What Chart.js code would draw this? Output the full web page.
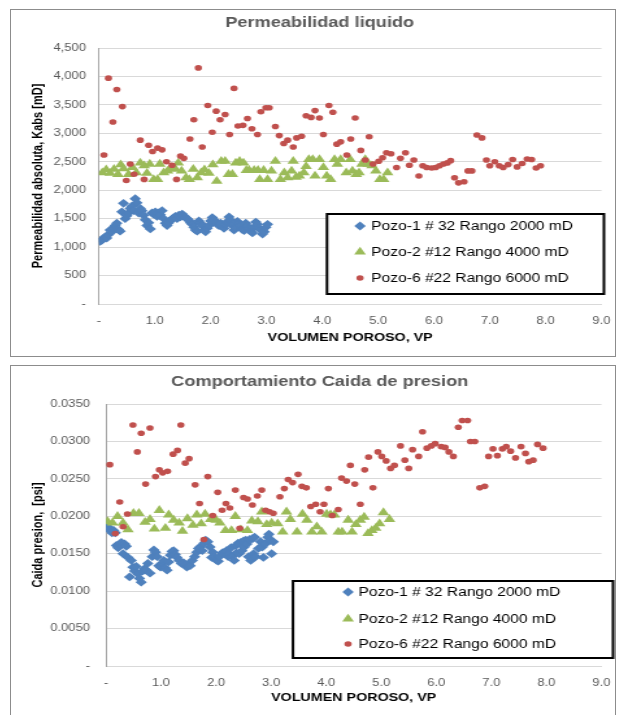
<!DOCTYPE html>
<html>
<head>
<meta charset="utf-8">
<script src="https://cdn.jsdelivr.net/npm/chart.js@4/dist/chart.umd.min.js"></script>
<style>
  body { margin: 0; background: #fff; width: 620px; height: 715px; overflow: hidden; position: relative; }
  .panel { position: absolute; left: 10px; width: 604px; border: 1px solid #8c8c8c; overflow: hidden; background: #fff; }
  /* the reference picture is stretched sideways, so the canvases are too */
  .stretch { transform-origin: 0 0; transform: scaleX(1.2989); }
  canvas { display: block; }
</style>
</head>
<body>
<div class="panel" style="top:9px;height:346px"><div class="stretch"><canvas id="permChart" width="465" height="346"></canvas></div></div>
<div class="panel" style="top:365px;height:350px"><div class="stretch"><canvas id="dpChart" width="465" height="350"></canvas></div></div>
<script>
const seriesNames = ["Pozo-1 # 32 Rango 2000 mD", "Pozo-2 #12 Rango 4000 mD", "Pozo-6 #22 Rango 6000 mD"];
const seriesColors = ["#4F81BD", "#9BBB59", "#C0504D"];

const vpTicks = [0, 1, 2, 3, 4, 5, 6, 7, 8, 9];
const vpTickLabels = ["-", "1.0", "2.0", "3.0", "4.0", "5.0", "6.0", "7.0", "8.0", "9.0"];
const permTicks = [0, 500, 1000, 1500, 2000, 2500, 3000, 3500, 4000, 4500];
const permTickLabels = ["-", "500", "1,000", "1,500", "2,000", "2,500", "3,000", "3,500", "4,000", "4,500"];
const dpTicks = [0, 0.005, 0.01, 0.015, 0.02, 0.025, 0.03, 0.035];
const dpTickLabels = ["-", "0.0050", "0.0100", "0.0150", "0.0200", "0.0250", "0.0300", "0.0350"];

// Permeabilidad liquido [VP, mD]
const perm1 = [[0.02,1100],[0.05,1120],[0.08,1150],[0.11,1180],[0.14,1160],[0.17,1220],[0.20,1300],[0.23,1270],[0.26,1340],[0.29,1380],
  [0.32,1420],[0.35,1310],[0.38,1280],[0.41,1620],[0.44,1770],[0.47,1500],[0.50,1550],[0.53,1600],[0.56,1680],[0.59,1720],
  [0.62,1640],[0.65,1850],[0.68,1780],[0.71,1600],[0.74,1680],[0.77,1640],[0.80,1560],[0.83,1480],[0.86,1380],[0.89,1430],
  [0.92,1320],[0.95,1600],[0.98,1580],[1.01,1620],[1.04,1540],[1.07,1600],[1.10,1570],[1.13,1640],[1.16,1500],[1.19,1420],
  [1.22,1380],[1.25,1430],[1.28,1470],[1.31,1490],[1.34,1520],[1.37,1540],[1.40,1500],[1.43,1560],[1.46,1530],[1.49,1580],
  [1.52,1550],[1.55,1520],[1.58,1500],[1.61,1470],[1.64,1430],[1.67,1400],[1.70,1350],[1.73,1300],[1.76,1280],[1.79,1460],
  [1.82,1420],[1.85,1380],[1.88,1300],[1.91,1270],[1.94,1330],[1.97,1380],[2.00,1460],[2.03,1520],[2.06,1480],[2.09,1440],
  [2.12,1400],[2.15,1380],[2.18,1420],[2.21,1360],[2.24,1330],[2.27,1400],[2.30,1450],[2.33,1530],[2.36,1470],[2.39,1380],
  [2.42,1300],[2.45,1340],[2.48,1450],[2.51,1420],[2.54,1380],[2.57,1310],[2.60,1290],[2.63,1420],[2.66,1370],[2.69,1330],
  [2.72,1280],[2.75,1250],[2.78,1350],[2.81,1440],[2.84,1400],[2.87,1330],[2.90,1300],[2.93,1230],[2.96,1270],[2.99,1350],[3.02,1400]];
const perm2 = [[0.06,2310],[0.13,2360],[0.20,2300],[0.27,2370],[0.34,2280],[0.39,2450],[0.44,2380],[0.53,2280],[0.60,2400],[0.67,2310],
  [0.74,2480],[0.81,2430],[0.86,2300],[0.91,2460],[0.98,2190],[1.05,2190],[1.09,2460],[1.16,2310],[1.23,2340],[1.30,2400],
  [1.37,2370],[1.42,2480],[1.48,2340],[1.56,2220],[1.62,2190],[1.69,2370],[1.76,2220],[1.83,2310],[1.89,2360],[1.97,2300],
  [2.04,2450],[2.11,2160],[2.19,2510],[2.26,2510],[2.32,2280],[2.39,2280],[2.45,2480],[2.52,2510],[2.59,2480],[2.64,2350],
  [2.69,2350],[2.78,2350],[2.85,2350],[2.88,2190],[2.95,2350],[3.02,2190],[3.09,2340],[3.16,2510],[3.25,2190],[3.32,2310],
  [3.38,2220],[3.45,2340],[3.48,2510],[3.53,2230],[3.59,2250],[3.67,2310],[3.71,2420],[3.76,2540],[3.83,2540],[3.87,2250],
  [3.95,2540],[4.02,2400],[4.08,2250],[4.15,2190],[4.22,2540],[4.27,2460],[4.33,2540],[4.43,2310],[4.50,2540],[4.54,2340],
  [4.61,2280],[4.66,2310],[4.71,2460],[4.77,2540],[4.82,2460],[4.89,2430],[4.96,2340],[5.03,2190],[5.10,2190],[5.17,2310]];
const perm6 = [[0.09,2620],[0.17,3970],[0.25,3200],[0.32,3770],[0.42,3470],[0.49,2170],[0.56,2460],[0.63,2280],[0.74,2880],[0.81,2190],
  [0.89,2790],[0.96,2680],[1.05,2740],[1.13,2710],[1.21,2500],[1.31,2440],[1.39,2190],[1.46,2600],[1.52,2560],[1.63,2900],
  [1.70,3240],[1.78,4150],[1.85,2760],[1.95,3490],[2.03,3020],[2.10,3390],[2.17,3240],[2.26,3330],[2.34,2980],[2.42,3790],
  [2.49,3130],[2.58,3140],[2.66,3260],[2.74,3080],[2.84,2980],[2.90,3380],[2.99,3450],[3.05,3450],[3.16,3120],[3.23,2960],
  [3.31,2820],[3.38,2880],[3.48,2760],[3.54,2920],[3.63,2950],[3.71,3310],[3.80,3280],[3.87,3400],[3.95,3270],[4.02,2980],
  [4.12,3490],[4.19,3370],[4.26,2810],[4.33,2850],[4.44,2620],[4.51,2900],[4.59,3270],[4.69,2700],[4.77,2530],[4.84,2940],
  [4.91,2460],[5.01,2510],[5.08,2570],[5.15,2660],[5.23,2640],[5.33,2400],[5.40,2560],[5.49,2660],[5.56,2440],[5.64,2530],
  [5.73,2250],[5.80,2430],[5.87,2400],[5.96,2390],[6.03,2400],[6.10,2430],[6.17,2460],[6.24,2480],[6.30,2520],[6.37,2220],
  [6.44,2130],[6.54,2150],[6.61,2340],[6.68,2340],[6.77,2970],[6.86,2920],[6.94,2530],[7.00,2430],[7.09,2500],[7.17,2430],
  [7.24,2400],[7.33,2450],[7.41,2540],[7.49,2410],[7.58,2470],[7.67,2550],[7.75,2540],[7.83,2390],[7.91,2430]];

// Caida de presion [VP, psi]
const dp1 = [[0.02,0.0190],[0.05,0.0185],[0.08,0.0181],[0.11,0.0178],[0.14,0.0181],[0.17,0.0178],[0.19,0.0161],[0.22,0.0158],[0.25,0.0163],[0.28,0.0165],
  [0.31,0.0150],[0.34,0.0163],[0.37,0.0160],[0.40,0.0145],[0.43,0.0119],[0.46,0.0141],[0.49,0.0132],[0.52,0.0127],[0.55,0.0133],[0.58,0.0123],
  [0.61,0.0117],[0.64,0.0112],[0.67,0.0127],[0.70,0.0130],[0.73,0.0128],[0.76,0.0137],[0.80,0.0124],[0.84,0.0146],[0.87,0.0155],[0.90,0.0152],
  [0.93,0.0146],[0.96,0.0134],[0.99,0.0132],[1.02,0.0137],[1.05,0.0141],[1.08,0.0131],[1.11,0.0128],[1.14,0.0139],[1.17,0.0148],[1.20,0.0153],
  [1.23,0.0154],[1.26,0.0149],[1.29,0.0145],[1.33,0.0141],[1.37,0.0137],[1.41,0.0138],[1.44,0.0135],[1.47,0.0132],[1.50,0.0136],[1.53,0.0134],
  [1.57,0.0141],[1.61,0.0146],[1.65,0.0152],[1.68,0.0157],[1.71,0.0159],[1.75,0.0154],[1.78,0.0164],[1.81,0.0168],[1.85,0.0166],[1.89,0.0159],
  [1.92,0.0145],[1.94,0.0152],[1.97,0.0146],[2.01,0.0141],[2.04,0.0140],[2.06,0.0146],[2.11,0.0151],[2.15,0.0152],[2.19,0.0154],[2.22,0.0146],
  [2.24,0.0150],[2.27,0.0158],[2.29,0.0146],[2.33,0.0141],[2.36,0.0161],[2.37,0.0151],[2.40,0.0164],[2.42,0.0150],[2.45,0.0165],[2.47,0.0154],
  [2.50,0.0167],[2.51,0.0159],[2.54,0.0168],[2.56,0.0163],[2.59,0.0146],[2.61,0.0169],[2.63,0.0141],[2.66,0.0170],[2.68,0.0150],[2.70,0.0172],
  [2.72,0.0146],[2.77,0.0157],[2.81,0.0166],[2.84,0.0159],[2.86,0.0145],[2.89,0.0163],[2.94,0.0172],[2.96,0.0176],[2.98,0.0168],[3.01,0.0150],[3.04,0.0166]];
const dp2 = [[0.03,0.0193],[0.12,0.0191],[0.21,0.0200],[0.31,0.0191],[0.40,0.0182],[0.50,0.0204],[0.60,0.0204],[0.71,0.0192],[0.80,0.0196],[0.88,0.0183],
  [0.97,0.0208],[1.08,0.0184],[1.14,0.0202],[1.23,0.0195],[1.33,0.0191],[1.39,0.0180],[1.48,0.0197],[1.58,0.0188],[1.65,0.0202],[1.73,0.0190],
  [1.80,0.0203],[1.90,0.0196],[2.00,0.0195],[2.07,0.0191],[2.17,0.0181],[2.28,0.0181],[2.35,0.0200],[2.45,0.0182],[2.57,0.0181],[2.65,0.0194],
  [2.76,0.0193],[2.83,0.0206],[2.92,0.0189],[3.01,0.0191],[3.12,0.0190],[3.21,0.0179],[3.28,0.0206],[3.35,0.0196],[3.47,0.0179],[3.57,0.0203],
  [3.65,0.0195],[3.74,0.0179],[3.83,0.0186],[3.92,0.0179],[4.01,0.0203],[4.08,0.0202],[4.15,0.0202],[4.22,0.0179],[4.29,0.0179],[4.40,0.0195],
  [4.47,0.0179],[4.54,0.0189],[4.62,0.0195],[4.69,0.0199],[4.76,0.0177],[4.83,0.0181],[4.90,0.0184],[4.97,0.0190],[5.04,0.0205],[5.15,0.0196]];
const dp6 = [[0.07,0.0269],[0.17,0.0177],[0.25,0.0219],[0.31,0.0186],[0.39,0.0203],[0.49,0.0322],[0.57,0.0286],[0.64,0.0311],[0.72,0.0243],[0.80,0.0318],
  [0.90,0.0253],[0.97,0.0262],[1.03,0.0258],[1.12,0.0260],[1.22,0.0283],[1.30,0.0288],[1.36,0.0322],[1.44,0.0271],[1.51,0.0277],[1.62,0.0242],
  [1.70,0.0217],[1.78,0.0169],[1.85,0.0253],[1.94,0.0201],[2.03,0.0232],[2.11,0.0208],[2.18,0.0217],[2.25,0.0211],[2.35,0.0235],[2.43,0.0184],
  [2.50,0.0225],[2.57,0.0223],[2.66,0.0215],[2.75,0.0227],[2.83,0.0235],[2.90,0.0208],[2.97,0.0206],[3.04,0.0204],[3.16,0.0226],[3.24,0.0237],
  [3.31,0.0249],[3.39,0.0245],[3.49,0.0256],[3.56,0.0240],[3.64,0.0238],[3.72,0.0213],[3.81,0.0216],[3.89,0.0206],[3.96,0.0216],[4.04,0.0237],
  [4.11,0.0201],[4.22,0.0209],[4.28,0.0251],[4.37,0.0247],[4.44,0.0268],[4.52,0.0243],[4.62,0.0216],[4.70,0.0262],[4.77,0.0279],[4.85,0.0238],
  [4.94,0.0286],[5.01,0.0280],[5.09,0.0274],[5.17,0.0264],[5.24,0.0268],[5.35,0.0294],[5.43,0.0275],[5.50,0.0264],[5.57,0.0289],[5.68,0.0280],
  [5.75,0.0313],[5.83,0.0291],[5.91,0.0294],[5.98,0.0297],[6.09,0.0293],[6.16,0.0292],[6.23,0.0286],[6.31,0.0280],[6.40,0.0319],[6.47,0.0328],
  [6.57,0.0328],[6.62,0.0300],[6.70,0.0300],[6.79,0.0238],[6.88,0.0240],[6.95,0.0280],[7.03,0.0290],[7.11,0.0281],[7.20,0.0290],[7.27,0.0293],
  [7.35,0.0287],[7.44,0.0278],[7.54,0.0293],[7.62,0.0284],[7.68,0.0273],[7.76,0.0275],[7.84,0.0296],[7.94,0.0291]];

const pointStyles = ["rectRot", "triangle", "circle"];
const pointSizes = [4.4, 5.2, 2.8];

Chart.defaults.font.family = "'Liberation Sans', Arial, sans-serif";

// legend drawn inside a black-framed box, like the Excel original
const boxLegend = {
  id: "boxLegend",
  afterDraw(chart, args, opts) {
    const ctx = chart.ctx;
    ctx.save();
    ctx.fillStyle = "#fff";
    ctx.fillRect(opts.left, opts.top, opts.width, opts.height);
    ctx.lineWidth = 2;
    ctx.strokeStyle = "#000";
    ctx.strokeRect(opts.left, opts.top, opts.width, opts.height);
    chart.data.datasets.forEach((ds, i) => {
      const y = opts.top + opts.rows[i];
      ctx.fillStyle = ds.backgroundColor;
      Chart.helpers.drawPoint(ctx, { pointStyle: ds.pointStyle, radius: ds.pointRadius, borderWidth: 0, rotation: 0 },
        opts.left + opts.markerX, y);
      ctx.fillStyle = "#000";
      ctx.font = "12px 'Liberation Sans', Arial, sans-serif";
      ctx.textBaseline = "middle";
      ctx.textAlign = "left";
      ctx.fillText(ds.label, opts.left + opts.textX, y + 1);
    });
    ctx.restore();
  },
};

function makeDatasets(series) {
  return series.map((pairs, i) => ({
    label: seriesNames[i],
    data: pairs.map((p) => ({ x: p[0], y: p[1] })),
    pointStyle: pointStyles[i],
    pointRadius: pointSizes[i],
    pointBorderWidth: 0,
    backgroundColor: seriesColors[i],
    borderColor: seriesColors[i],
    order: 2 - i,
  }));
}

function drawChart(id, cfg) {
  return new Chart(document.getElementById(id), {
    type: "scatter",
    data: { datasets: makeDatasets(cfg.series) },
    plugins: [boxLegend],
    options: {
      responsive: false,
      animation: false,
      devicePixelRatio: 1,
      layout: { padding: { left: 18, right: 7.7, top: 0, bottom: 0 } },
      plugins: {
        legend: { display: false },
        tooltip: { enabled: false },
        title: {
          display: true,
          text: cfg.title,
          color: "#595959",
          font: { size: 14, weight: "bold" },
          padding: cfg.titlePadding,
        },
        boxLegend: cfg.legendBox,
      },
      scales: {
        x: {
          type: "linear",
          min: vpTicks[0],
          max: vpTicks[vpTicks.length - 1],
          afterBuildTicks: (s) => { s.ticks = vpTicks.map((v) => ({ value: v })); },
          afterFit: (s) => { s.height = cfg.xHeight; },
          grid: { display: false },
          border: { color: "#d9d9d9" },
          ticks: {
            callback: (v, i) => vpTickLabels[i],
            color: "#595959",
            font: { size: 10 },
            padding: 3.5,
            maxRotation: 0,
            autoSkip: false,
          },
          title: {
            display: true,
            text: "VOLUMEN POROSO, VP",
            color: "#000",
            font: { size: 11, weight: "bold" },
            padding: { top: 0, bottom: cfg.xTitleBottom },
          },
        },
        y: {
          min: cfg.yTicks[0],
          max: cfg.yTicks[cfg.yTicks.length - 1],
          afterBuildTicks: (s) => { s.ticks = cfg.yTicks.map((v) => ({ value: v })); },
          afterFit: (s) => { s.width = cfg.yWidth; },
          grid: { color: "#d9d9d9", drawTicks: false },
          border: { color: "#a6a6a6" },
          ticks: {
            callback: (v, i) => cfg.yLabels[i],
            color: "#595959",
            font: { size: 10 },
            padding: cfg.yTickPad,
          },
          title: {
            display: true,
            text: cfg.yTitle,
            color: "#000",
            font: { size: 11, weight: "bold" },
            padding: { top: -4, bottom: 0 },
          },
        },
      },
    },
  });
}

drawChart("permChart", {
  series: [perm1, perm2, perm6],
  title: "Permeabilidad liquido",
  titlePadding: { top: 4.6, bottom: 16.6 },
  yTitle: "Permeabilidad absoluta, Kabs [mD]",
  yTicks: permTicks,
  yLabels: permTickLabels,
  yWidth: 49.7,
  yTickPad: 10,
  xHeight: 52,
  xTitleBottom: 11.4,
  legendBox: { left: 243.3, top: 204, width: 213.2, height: 80, markerX: 25.4, textX: 34, rows: [12, 38, 64] },
});

drawChart("dpChart", {
  series: [dp1, dp2, dp6],
  title: "Comportamiento Caida de presion",
  titlePadding: { top: 7.6, bottom: 13.6 },
  yTitle: "Caida presion,  [psi]",
  yTicks: dpTicks,
  yLabels: dpTickLabels,
  yWidth: 55.1,
  yTickPad: 12.3,
  xHeight: 50,
  xTitleBottom: 11.4,
  legendBox: { left: 217.1, top: 215, width: 246.4, height: 77, markerX: 42.4, textX: 50.4, rows: [11, 38, 63] },
});
</script>
</body>
</html>
